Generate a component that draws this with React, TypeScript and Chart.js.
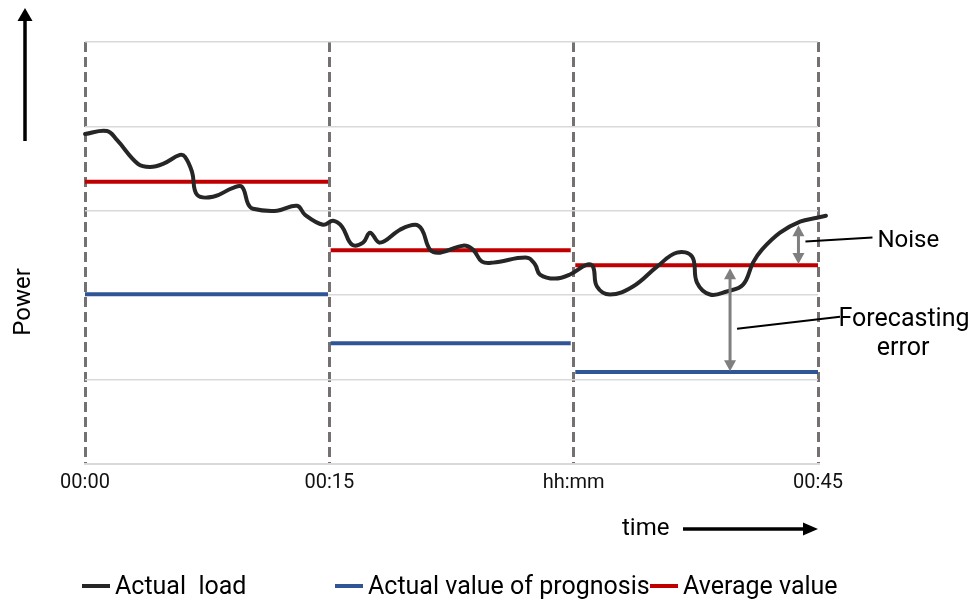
import { useEffect, useRef } from "react";
import { Chart, registerables } from "chart.js";

Chart.register(...registerables);

// ---- data ----
const tickMinutes = [0, 15, 30, 45];
const tickLabels = ["00:00", "00:15", "hh:mm", "00:45"];

const loadMinutes = [
  0, 1.35, 1.96, 3.25, 3.99, 4.79, 5.83, 6.14, 6.57, 6.88, 7.86, 9.09, 9.64, 10.01, 10.31,
  11.79, 13.02, 13.51, 14.61, 15.23, 15.78, 16.39, 17.07, 17.5, 18.11, 19.34, 20.26, 20.69,
  21.18, 21.79, 23.21, 23.82, 24.37, 25.05, 27.14, 27.63, 27.93, 28.85, 29.77, 30.82, 31.19,
  31.43, 32.23, 33.64, 35.12, 36.34, 37.27, 37.57, 38.37, 39.41, 40.4, 41.01, 41.56, 42.67,
  43.9, 44.94, 45.49,
];
const loadValues = [
  3.91, 3.946, 3.839, 3.556, 3.52, 3.556, 3.662, 3.639, 3.461, 3.19, 3.166, 3.272, 3.284, 3.083,
  3.024, 3.001, 3.06, 2.953, 2.835, 2.882, 2.812, 2.599, 2.623, 2.741, 2.623, 2.776, 2.835, 2.776,
  2.54, 2.504, 2.587, 2.54, 2.398, 2.386, 2.445, 2.363, 2.245, 2.197, 2.245, 2.363, 2.339, 2.103,
  2.008, 2.103, 2.339, 2.504, 2.457, 2.15, 2.008, 2.044, 2.126, 2.386, 2.54, 2.741, 2.871, 2.918,
  2.942,
];

const intervalStarts = [0, 15.08, 30.1];
const intervalEnds = [14.92, 29.82, 45];
const averageValues = [3.345, 2.533, 2.356];
const prognosisValues = [2.01, 1.43, 1.09];

const seriesNames = ["Actual  load", "Actual value of prognosis", "Average value"];
const seriesColors = ["#262626", "#2f5597", "#c00000"];

// annotation arrows: [minute, from value, to value]
const noiseArrow = [43.8, 2.37, 2.83];
const errorArrow = [39.6, 2.32, 1.1];

const FONT = "Roboto, 'Noto Sans', sans-serif";

function segments(vals: number[]) {
  const pts: { x: number; y: number | null }[] = [];
  vals.forEach((v, i) => {
    pts.push({ x: intervalStarts[i], y: v }, { x: intervalEnds[i], y: v });
    if (i < vals.length - 1) pts.push({ x: intervalEnds[i], y: null });
  });
  return pts;
}

function arrowHead(ctx: CanvasRenderingContext2D, x: number, y: number, dx: number, dy: number, len: number, half: number) {
  const bx = x - dx * len;
  const by = y - dy * len;
  ctx.beginPath();
  ctx.moveTo(x, y);
  ctx.lineTo(bx - dy * half, by + dx * half);
  ctx.lineTo(bx + dy * half, by - dx * half);
  ctx.closePath();
  ctx.fill();
}

function doubleArrow(ctx: CanvasRenderingContext2D, x: number, y1: number, y2: number, color: string) {
  const top = Math.min(y1, y2);
  const bot = Math.max(y1, y2);
  ctx.strokeStyle = color;
  ctx.fillStyle = color;
  ctx.lineWidth = 3;
  ctx.beginPath();
  ctx.moveTo(x, top + 6);
  ctx.lineTo(x, bot - 6);
  ctx.stroke();
  arrowHead(ctx, x, top, 0, -1, 11, 6);
  arrowHead(ctx, x, bot, 0, 1, 11, 6);
}

const annotationPlugin = {
  id: "annotations",
  afterDraw(chart: any) {
    const { ctx, scales } = chart;
    const x = scales.x;
    const y = scales.y;
    ctx.save();

    // Power arrow and label
    ctx.strokeStyle = "#000";
    ctx.fillStyle = "#000";
    ctx.lineWidth = 3.5;
    ctx.beginPath();
    ctx.moveTo(25, 141);
    ctx.lineTo(25, 18);
    ctx.stroke();
    arrowHead(ctx, 25, 8, 0, -1, 13, 7.5);

    ctx.save();
    ctx.translate(30, 302);
    ctx.rotate(-Math.PI / 2);
    ctx.font = `24px ${FONT}`;
    ctx.textAlign = "center";
    ctx.textBaseline = "alphabetic";
    ctx.fillText("Power", 0, 0);
    ctx.restore();

    // time label and arrow
    ctx.font = `24px ${FONT}`;
    ctx.textAlign = "left";
    ctx.textBaseline = "alphabetic";
    ctx.fillStyle = "#000";
    ctx.fillText("time", 622, 535);
    const tEnd = x.getPixelForValue(45);
    ctx.lineWidth = 3.5;
    ctx.beginPath();
    ctx.moveTo(683, 529);
    ctx.lineTo(tEnd - 10, 529);
    ctx.stroke();
    arrowHead(ctx, tEnd, 529, 1, 0, 15, 6.5);

    // Noise arrow
    const nx = x.getPixelForValue(noiseArrow[0]);
    const ny1 = y.getPixelForValue(noiseArrow[1]);
    const ny2 = y.getPixelForValue(noiseArrow[2]);
    doubleArrow(ctx, nx, ny1, ny2, "#7f7f7f");
    const nMid = (ny1 + ny2) / 2;
    ctx.strokeStyle = "#000";
    ctx.lineWidth = 2;
    ctx.beginPath();
    ctx.moveTo(nx + 7, nMid - 3);
    ctx.lineTo(nx + 74, nMid - 7);
    ctx.stroke();
    ctx.fillStyle = "#000";
    ctx.font = `24px ${FONT}`;
    ctx.textAlign = "left";
    ctx.fillText("Noise", nx + 79, nMid + 2);

    // Forecasting error arrow
    const ex = x.getPixelForValue(errorArrow[0]);
    const ey1 = y.getPixelForValue(errorArrow[1]);
    const ey2 = y.getPixelForValue(errorArrow[2]);
    doubleArrow(ctx, ex, ey1, ey2, "#7f7f7f");
    const eMid = (ey1 + ey2) / 2;
    ctx.strokeStyle = "#000";
    ctx.lineWidth = 2;
    ctx.beginPath();
    ctx.moveTo(ex + 7, eMid + 9);
    ctx.lineTo(ex + 110, eMid - 3);
    ctx.stroke();
    ctx.fillStyle = "#000";
    ctx.font = `25px ${FONT}`;
    ctx.textAlign = "center";
    ctx.fillText("Forecasting", ex + 174, eMid + 6);
    ctx.fillText("error", ex + 173, eMid + 35);

    // Legend
    const legendX = [82, 335, 650];
    const ly = 586;
    ctx.font = `25px ${FONT}`;
    ctx.textAlign = "left";
    seriesNames.forEach((name, i) => {
      ctx.fillStyle = seriesColors[i];
      ctx.fillRect(legendX[i], ly - 2, 28, 4);
      ctx.fillStyle = "#000";
      ctx.fillText(name, legendX[i] + 33, ly + 8);
    });

    ctx.restore();
  },
};

export default function App() {
  const canvasRef = useRef<HTMLCanvasElement | null>(null);

  useEffect(() => {
    if (!canvasRef.current) return;
    const chart = new Chart(canvasRef.current, {
      type: "line",
      data: {
        datasets: [
          {
            label: seriesNames[0],
            data: loadMinutes.map((m, i) => ({ x: m, y: loadValues[i] })),
            borderColor: seriesColors[0],
            borderWidth: 4,
            pointRadius: 0,
            tension: 0.4,
            borderJoinStyle: "round",
            borderCapStyle: "round",
            clip: false,
          } as any,
          {
            label: seriesNames[1],
            data: segments(prognosisValues),
            borderColor: seriesColors[1],
            borderWidth: 4,
            pointRadius: 0,
            spanGaps: false,
          },
          {
            label: seriesNames[2],
            data: segments(averageValues),
            borderColor: seriesColors[2],
            borderWidth: 4,
            pointRadius: 0,
            spanGaps: false,
          },
        ],
      },
      options: {
        animation: false,
        responsive: true,
        maintainAspectRatio: false,
        layout: { padding: { left: 85, right: 155, top: 42, bottom: 98 } },
        plugins: {
          legend: { display: false },
          tooltip: { enabled: false },
        },
        scales: {
          x: {
            type: "linear",
            min: 0,
            max: 45,
            afterBuildTicks: (scale: any) => {
              scale.ticks = tickMinutes.map((v) => ({ value: v }));
            },
            ticks: {
              autoSkip: false,
              maxRotation: 0,
              padding: 7,
              color: "#111",
              font: { family: FONT, size: 20 },
              callback: (v: any) => {
                const i = tickMinutes.indexOf(Number(v));
                return i >= 0 ? tickLabels[i] : "";
              },
            },
            grid: {
              color: "#767171",
              lineWidth: 3,
              drawTicks: false,
            },
            border: {
              display: true,
              color: "#d9d9d9",
              width: 2,
              dash: [10, 5],
            },
          },
          y: {
            min: 0,
            max: 5,
            ticks: { display: false, stepSize: 1 },
            grid: { color: "#d9d9d9", lineWidth: 1.5, drawTicks: false },
            border: { display: false },
          },
        },
      },
      plugins: [annotationPlugin],
    } as any);
    return () => chart.destroy();
  }, []);

  return (
    <div style={{ position: "fixed", left: 0, top: 0, width: 973, height: 600, background: "#fff" }}>
      <canvas ref={canvasRef} />
    </div>
  );
}
